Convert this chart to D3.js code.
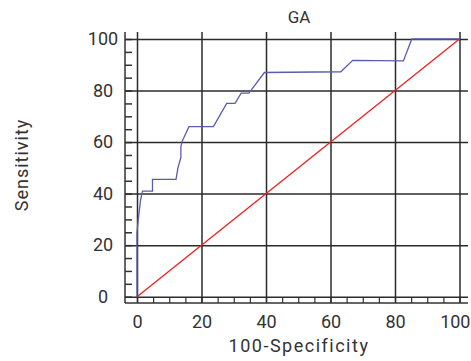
<!doctype html>
<html lang="en">
    <head>
        <meta charset="utf-8">
        <script src="https://d3js.org/d3.v7.min.js"></script>
        <title>GA</title>
        <style>
            body { margin: 0; background: #fff; }
            text { font-family: Roboto, "DejaVu Sans", sans-serif; fill: #333; }
        </style>
    </head>
    <body>
        <div id="my_dataviz"></div>

        <script>
            // ROC curve: 100-Specificity, Sensitivity
            var fpr  = [0, 0, 0.4, 1.1, 1.7, 4.8, 4.8, 12.1, 12.7, 13.6, 13.6, 13.9, 16.1, 23.7, 27.8, 30.4, 32.3, 34.7, 39.5, 63.2, 66.9, 82.6, 85.2, 100]
            var sens = [0, 25, 30, 37.5, 41, 41, 45.5, 45.5, 50, 54, 58, 60, 66, 66, 75, 75, 79, 79, 87, 87.3, 91.7, 91.5, 100, 100]
            var diag = [0, 100]
            var tickVals = [0, 20, 40, 60, 80, 100]

            var width = 471
            var height = 361

            var svg = d3.select("#my_dataviz")
                .append("svg")
                .attr("width", width)
                .attr("height", height)

            // plot frame
            var pLeft = 125, pRight = 468, pTop = 32, pBottom = 303

            var x = d3.scaleLinear().domain([0, 100]).range([137, 459.5])
            var y = d3.scaleLinear().domain([0, 100]).range([296.7, 39])

            // minor ticks on left axis
            svg.append("g")
                .attr("transform", "translate(" + pLeft + ",0)")
                .call(d3.axisLeft(y).tickValues(d3.range(0, 101, 5)).tickSizeInner(-7).tickSizeOuter(0).tickFormat(""))
                .call(function(g){ g.select(".domain").remove() })
                .selectAll("line").attr("stroke", "#333").attr("stroke-width", 1.5)

            // minor ticks on bottom axis
            svg.append("g")
                .attr("transform", "translate(0," + pBottom + ")")
                .call(d3.axisBottom(x).tickValues(d3.range(0, 101, 5)).tickSizeInner(-6).tickSizeOuter(0).tickFormat(""))
                .call(function(g){ g.select(".domain").remove() })
                .selectAll("line").attr("stroke", "#333").attr("stroke-width", 1.2)

            // major ticks + grid, left
            var yAxis = svg.append("g")
                .attr("transform", "translate(" + pLeft + ",0)")
                .call(d3.axisLeft(y).tickValues(tickVals).tickSizeInner(-(pRight - pLeft)).tickSizeOuter(0).tickPadding(22))
            yAxis.select(".domain").remove()
            yAxis.selectAll("line").attr("stroke", "#2b2b2b").attr("stroke-width", 1.5)
            yAxis.selectAll("text")
                .attr("text-anchor", "middle")
                .style("font-size", "18px")
                .style("font-family", "Roboto, sans-serif")
                .attr("fill", "#333")

            // major ticks + grid, bottom
            var xAxis = svg.append("g")
                .attr("transform", "translate(0," + pBottom + ")")
                .call(d3.axisBottom(x).tickValues(tickVals).tickSizeInner(-(pBottom - pTop)).tickSizeOuter(0).tickPadding(12))
            xAxis.select(".domain").remove()
            xAxis.selectAll("line").attr("stroke", "#2b2b2b").attr("stroke-width", 1.5)
            xAxis.selectAll("text")
                .style("font-size", "18px")
                .style("font-family", "Roboto, sans-serif")
                .attr("fill", "#333")
            // last label pulled in so it stays on the page
            xAxis.selectAll("text")
                .filter(function(d){ return d === 100 })
                .attr("text-anchor", "end")
                .attr("x", 10.5)

            // axis lines
            svg.append("line")
                .attr("x1", pLeft).attr("x2", pLeft).attr("y1", pTop).attr("y2", pBottom)
                .attr("stroke", "#333").attr("stroke-width", 1.5)
            svg.append("line")
                .attr("x1", pLeft).attr("x2", pRight).attr("y1", pBottom).attr("y2", pBottom)
                .attr("stroke", "#333").attr("stroke-width", 1.5)

            // reference diagonal
            svg.append("path")
                .datum(diag)
                .attr("fill", "none")
                .attr("stroke", "#ee2020")
                .attr("stroke-width", 1.3)
                .attr("d", d3.line().x(function(d){ return x(d) }).y(function(d){ return y(d) }))

            // ROC curve
            svg.append("path")
                .datum(d3.range(fpr.length))
                .attr("fill", "none")
                .attr("stroke", "#5b5bb0")
                .attr("stroke-width", 1.3)
                .attr("d", d3.line().x(function(i){ return x(fpr[i]) }).y(function(i){ return y(sens[i]) }))

            // titles
            svg.append("text")
                .attr("x", 299).attr("y", 23)
                .attr("text-anchor", "middle")
                .style("font-size", "17px")
                .text("GA")

            svg.append("text")
                .attr("x", 299).attr("y", 352)
                .attr("text-anchor", "middle")
                .style("font-size", "18px")
                .style("letter-spacing", "1.5px")
                .text("100-Specificity")

            svg.append("text")
                .attr("transform", "translate(28,165) rotate(-90)")
                .attr("text-anchor", "middle")
                .style("font-size", "18px")
                .style("letter-spacing", "1px")
                .text("Sensitivity")
        </script>
    </body>
</html>
